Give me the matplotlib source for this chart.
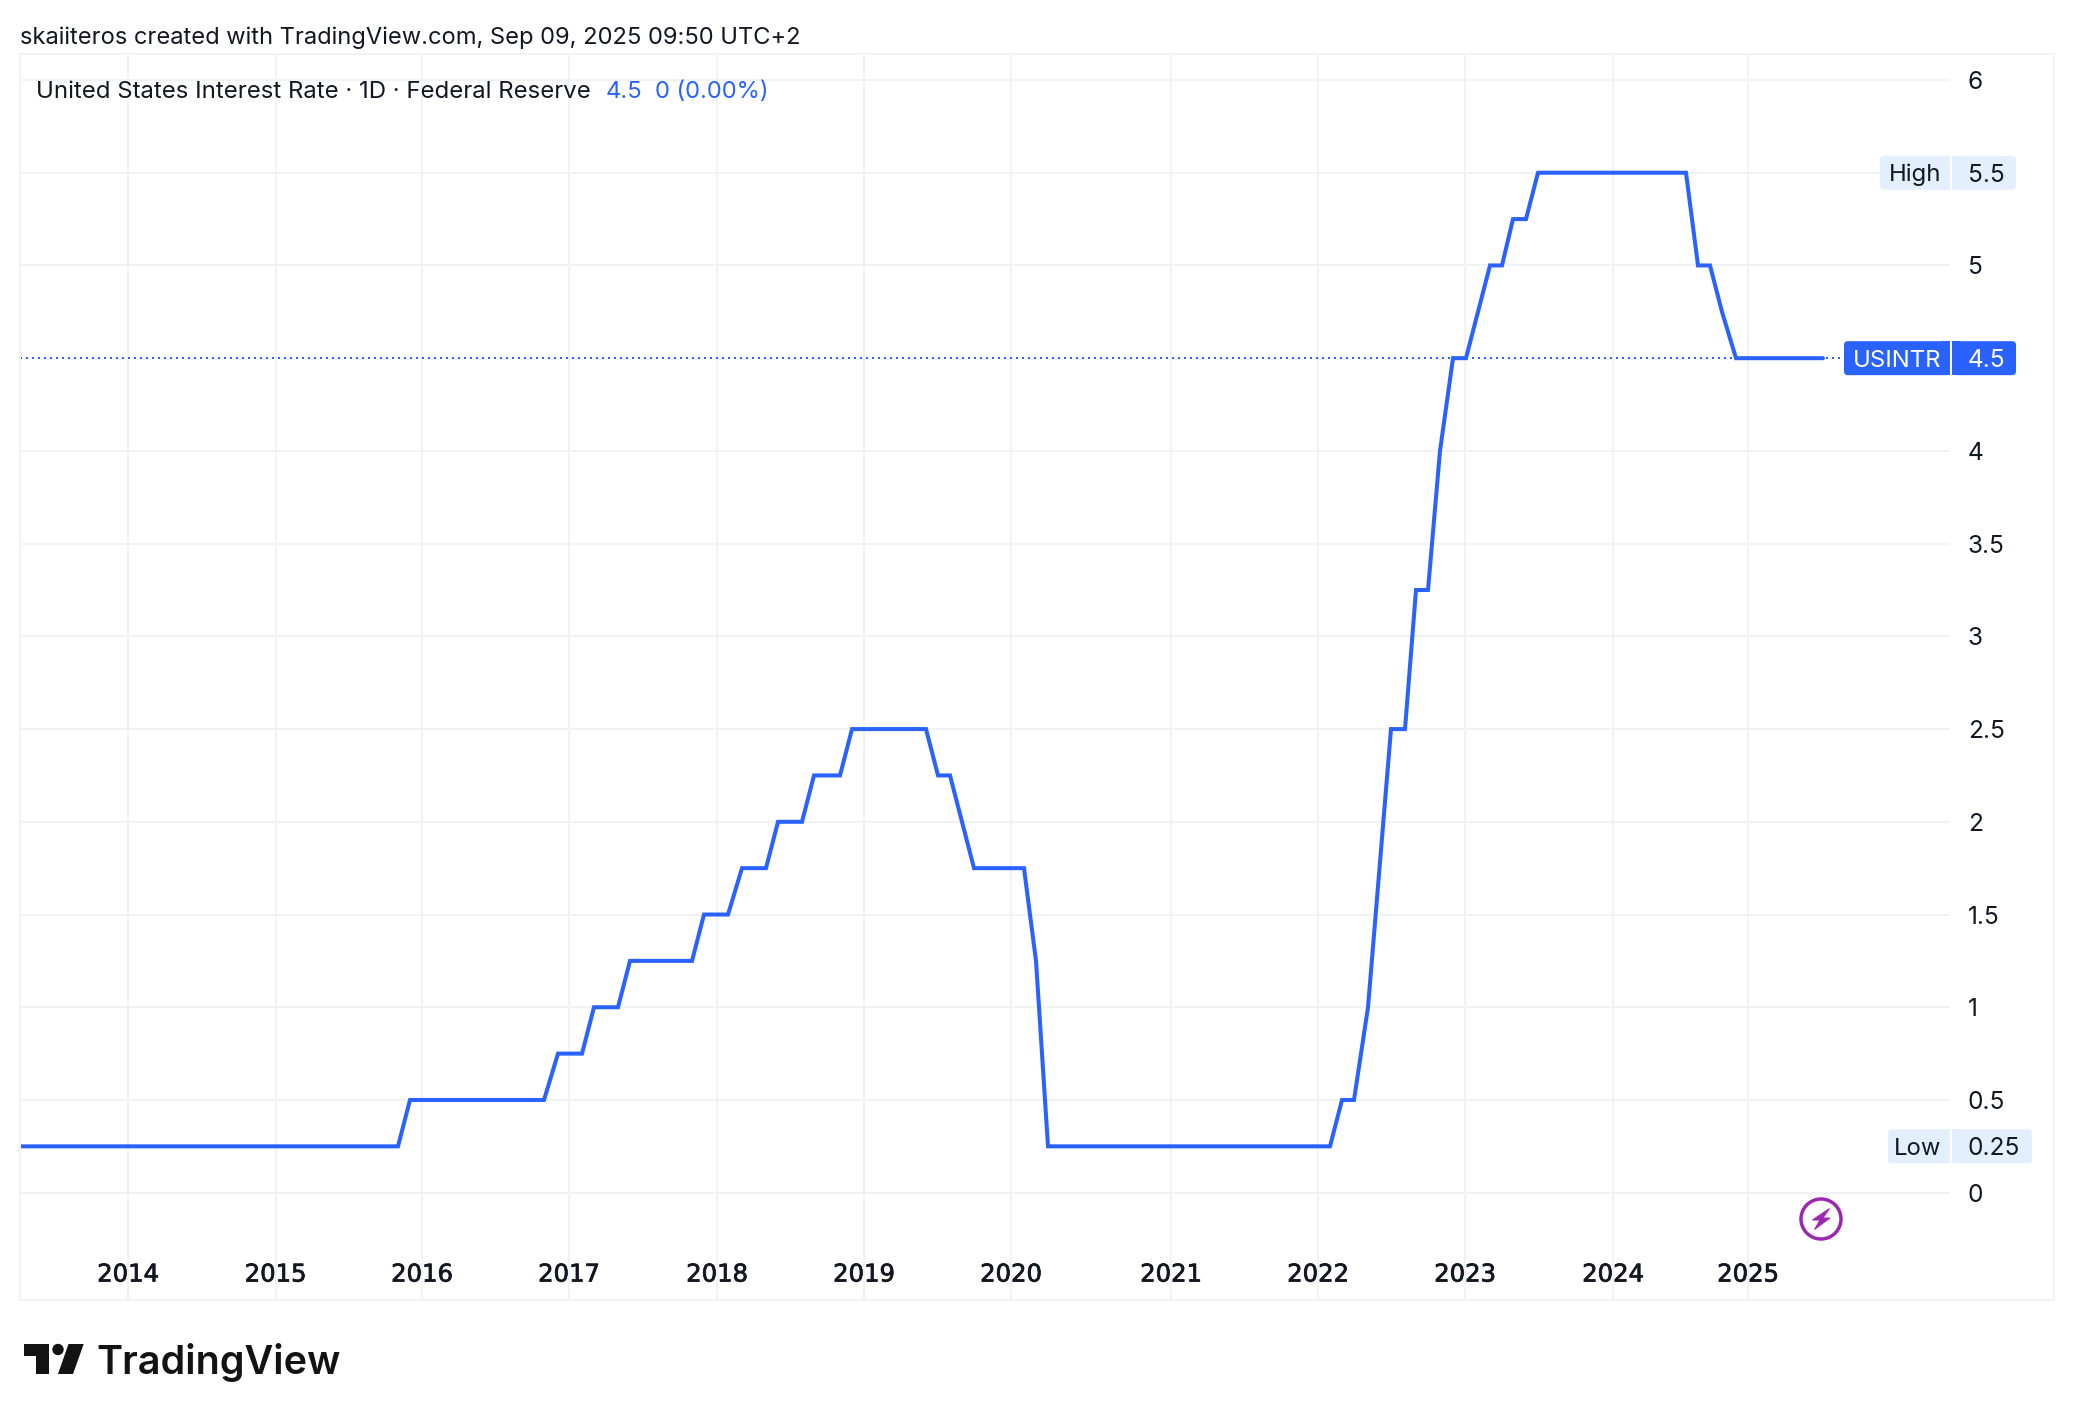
import matplotlib
matplotlib.use("Agg")
import matplotlib.pyplot as plt
import matplotlib.patheffects as pe
from matplotlib.patches import FancyBboxPatch, Circle, Polygon, Rectangle

W, H = 2074, 1420
BLUE = "#2962ff"
PALE = "#e3effd"
GRID = "#f1f2f3"
INK = "#131722"
FONT = "Inter"
plt.rcParams["font.family"] = [FONT, "DejaVu Sans"]

# Rate series: position along the time axis and the policy rate at that position
bar_pos = [20, 398, 410, 544, 558, 582, 594, 618, 630, 692, 704, 728, 742, 766, 778,
           802, 814, 840, 852, 926, 938, 950, 974, 1024, 1036, 1048, 1330, 1342, 1354,
           1368, 1391, 1405, 1416, 1428, 1440, 1453, 1466, 1490, 1502, 1513, 1526,
           1538, 1686, 1698, 1710, 1722, 1736, 1823]
rate = [0.25, 0.25, 0.5, 0.5, 0.75, 0.75, 1, 1, 1.25, 1.25, 1.5, 1.5, 1.75, 1.75, 2,
        2, 2.25, 2.25, 2.5, 2.5, 2.25, 2.25, 1.75, 1.75, 1.25, 0.25, 0.25, 0.5, 0.5,
        1, 2.5, 2.5, 3.25, 3.25, 4, 4.5, 4.5, 5, 5, 5.25, 5.25,
        5.5, 5.5, 5, 5, 4.75, 4.5, 4.5]
year_pos = [128, 275.5, 422, 569, 717, 864, 1011, 1171, 1318, 1465, 1613, 1748]
year_labels = ["2014", "2015", "2016", "2017", "2018", "2019", "2020", "2021", "2022",
               "2023", "2024", "2025"]
rate_ticks = [0, 0.5, 1, 1.5, 2, 2.5, 3, 3.5, 4, 4.5, 5, 5.5, 6]
rate_labels = ["0", "0.5", "1", "1.5", "2", "2.5", "3", "3.5", "4", "", "5", "", "6"]
last_value = 4.5
high_value = 5.5
low_value = 0.25

fig = plt.figure(figsize=(W / 100, H / 100), dpi=100, facecolor="white")

# Plot area spans the grid; the price scale sits to its right
L, R, T, B = 20, 1950, 54, 1300
ax = fig.add_axes([L / W, 1 - B / H, (R - L) / W, (B - T) / H])
ax.set_xlim(L, R)
PX_PER_UNIT = 185.45
ax.set_ylim(-(B - 1192.7) / PX_PER_UNIT, 6 + (80 - T) / PX_PER_UNIT)
for s in ax.spines.values():
    s.set_visible(False)
ax.set_axisbelow(True)
ax.grid(False)
for v in rate_ticks:
    if v != last_value:
        ax.axhline(v, color=GRID, lw=1.44, zorder=1)
for p in year_pos:
    ax.axvline(p, color=GRID, lw=1.44, zorder=1)

ax.yaxis.tick_right()
ax.set_yticks(rate_ticks, rate_labels)
ax.tick_params(axis="y", length=0, pad=12.7, labelsize=17.6, labelcolor=INK)

# Year labels sit inside the frame, above its bottom edge
ax.set_xticks(year_pos, year_labels)
ax.tick_params(axis="x", length=0, pad=-27, labelsize=17.5, labelcolor=INK)
for lab in ax.get_xticklabels():
    lab.set_family("DejaVu Sans")
    lab.set_path_effects([pe.withStroke(linewidth=0.55, foreground=INK)])

ax.plot([L, 1845], [last_value, last_value], color=BLUE, lw=1.44,
        ls=(0, (1, 2)), zorder=2, clip_on=False, dash_capstyle="butt")
ax.plot(bar_pos, rate, color=BLUE, lw=2.9, zorder=3, solid_joinstyle="miter",
        solid_capstyle="round")

# Overlay in figure pixels for the frame, badges and branding
ov = fig.add_axes([0, 0, 1, 1], facecolor="none")
ov.set_xlim(0, W)
ov.set_ylim(H, 0)
ov.axis("off")

ov.add_patch(Rectangle((20, 54), 2034, 1246, fill=False, ec=GRID, lw=1.44))


def y_px(v):
    return 80 + (6 - v) * PX_PER_UNIT


def badge(x0, x1, yc, color, left=True):
    h = 34
    ov.add_patch(FancyBboxPatch((x0 + 4, yc - h / 2 + 4), x1 - x0 - 8, h - 8,
                                boxstyle="round,pad=4,rounding_size=4",
                                fc=color, ec="none", zorder=4))
    # squared inner corner next to the split between the two badge halves
    if left:
        ov.add_patch(Rectangle((x1 - 8, yc - h / 2), 8, h, fc=color, ec="none", zorder=4))
    else:
        ov.add_patch(Rectangle((x0, yc - h / 2), 8, h, fc=color, ec="none", zorder=4))


def scale_tag(name, value_text, v, x_left, x_right, fill, color):
    yc = y_px(v)
    badge(x_left, 1950, yc, fill, True)
    badge(1952, x_right, yc, fill, False)
    ov.text(1941, yc, name, ha="right", va="center_baseline", fontsize=17.2, color=color, zorder=5)
    ov.text(1967.5, yc, value_text, ha="left", va="center_baseline", fontsize=17.6, color=color, zorder=5)


scale_tag("High", "5.5", high_value, 1880, 2016, PALE, INK)
scale_tag("USINTR", "4.5", last_value, 1844, 2016, BLUE, "white")
scale_tag("Low", "0.25", low_value, 1888, 2032, PALE, INK)

# Header and legend rows
ov.text(20, 35, "skaiiteros created with TradingView.com, Sep 09, 2025 09:50 UTC+2",
        fontsize=17.05, color=INK, va="center_baseline")
ov.text(36, 89.5, "United States Interest Rate · 1D · Federal Reserve",
        fontsize=17.25, color=INK, va="center_baseline")
ov.text(606, 89.5, "4.5", fontsize=17.2, color=BLUE, va="center_baseline")
ov.text(655, 89.5, "0 (0.00%)", fontsize=17.1, color=BLUE, va="center_baseline")

# Realtime bolt marker
PURPLE = "#9c27b0"
ov.add_patch(Circle((1821, 1219), 20, fill=False, ec=PURPLE, lw=2.5, zorder=5))
ov.add_patch(Polygon([(1829.5, 1208.5), (1812.5, 1220), (1820, 1220), (1814.5, 1229.5),
                      (1830, 1218), (1823, 1218)], fc=PURPLE, ec=PURPLE, lw=0.7, zorder=5))

# TradingView wordmark
LOGO = "#131313"
ov.add_patch(Polygon([(24, 1344), (48.5, 1344), (48.5, 1374), (36, 1374), (36, 1356), (24, 1356)],
                     fc=LOGO, ec="none"))
ov.add_patch(Circle((58, 1349.5), 5.7, fc=LOGO, ec="none"))
ov.add_patch(Polygon([(68.5, 1344), (83.7, 1344), (73, 1374), (58, 1374)], fc=LOGO, ec="none"))
ov.text(96.5, 1374, "TradingView", fontsize=28.5, fontweight="semibold", color=LOGO,
        ha="left", va="baseline")

fig.savefig("out.png", dpi=100, facecolor="white")
